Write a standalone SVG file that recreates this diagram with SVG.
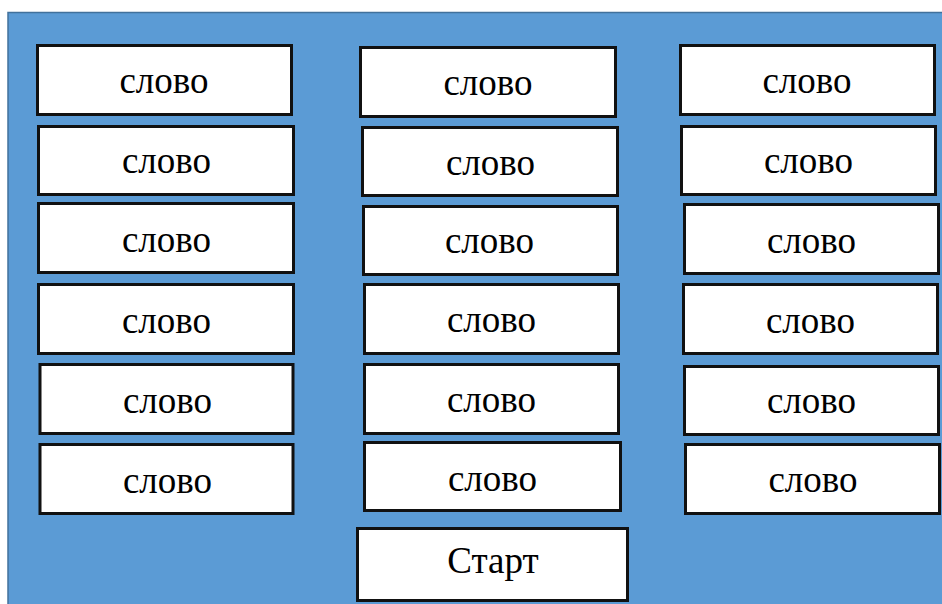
<svg xmlns="http://www.w3.org/2000/svg" width="942" height="604" viewBox="0 0 942 604">
  <style>
    .panel { fill: #5b9bd5; stroke: #41719c; stroke-width: 1.5; }
    .card { fill: #ffffff; stroke: #111111; stroke-width: 3; }
    .word { font-family: "Liberation Serif", "Times New Roman", serif; font-size: 37px; fill: #000000; text-anchor: middle; }
  </style>
  <rect width="942" height="604" fill="#ffffff"/>
  <rect class="panel" x="8" y="12.5" width="940" height="600"/>

  <!-- left column -->
  <g id="w1-1"><rect class="card" x="37.5" y="45.5" width="254" height="69"/><text class="word" x="164" y="93">слово</text></g>
  <g id="w1-2"><rect class="card" x="38.5" y="126.5" width="255" height="68"/><text class="word" x="166.5" y="173">слово</text></g>
  <g id="w1-3"><rect class="card" x="38.5" y="203.5" width="255" height="69"/><text class="word" x="166.5" y="252">слово</text></g>
  <g id="w1-4"><rect class="card" x="38.5" y="284.5" width="255" height="69"/><text class="word" x="166.5" y="333">слово</text></g>
  <g id="w1-5"><rect class="card" x="40" y="364.5" width="253" height="69"/><text class="word" x="167.5" y="413">слово</text></g>
  <g id="w1-6"><rect class="card" x="40" y="444.5" width="253" height="69"/><text class="word" x="167.5" y="493">слово</text></g>

  <!-- middle column -->
  <g id="w2-1"><rect class="card" x="360.5" y="47.5" width="255" height="69"/><text class="word" x="488" y="95">слово</text></g>
  <g id="w2-2"><rect class="card" x="362.5" y="127.5" width="255" height="68"/><text class="word" x="490.5" y="175">слово</text></g>
  <g id="w2-3"><rect class="card" x="363.5" y="206.5" width="254" height="68"/><text class="word" x="489.5" y="253">слово</text></g>
  <g id="w2-4"><rect class="card" x="364.5" y="284.5" width="254" height="69"/><text class="word" x="491.5" y="332">слово</text></g>
  <g id="w2-5"><rect class="card" x="364.5" y="364.5" width="254" height="69"/><text class="word" x="491.5" y="412">слово</text></g>
  <g id="w2-6"><rect class="card" x="364.5" y="442.5" width="256" height="68"/><text class="word" x="492.5" y="491">слово</text></g>

  <!-- right column -->
  <g id="w3-1"><rect class="card" x="680.5" y="45.5" width="254" height="69"/><text class="word" x="807" y="93">слово</text></g>
  <g id="w3-2"><rect class="card" x="681.5" y="126.5" width="254" height="68"/><text class="word" x="808.5" y="173">слово</text></g>
  <g id="w3-3"><rect class="card" x="684.5" y="204.5" width="254" height="69"/><text class="word" x="811.5" y="253">слово</text></g>
  <g id="w3-4"><rect class="card" x="683.5" y="284.5" width="254" height="69"/><text class="word" x="810.5" y="333">слово</text></g>
  <g id="w3-5"><rect class="card" x="684.5" y="366.5" width="254" height="68"/><text class="word" x="811.5" y="413">слово</text></g>
  <g id="w3-6"><rect class="card" x="685.5" y="444.5" width="254" height="69"/><text class="word" x="813" y="492">слово</text></g>

  <!-- start button -->
  <g id="start"><rect class="card" x="357.5" y="528.5" width="270" height="72"/><text class="word" x="493" y="573">Старт</text></g>

  <g id="connectors"/>
</svg>
